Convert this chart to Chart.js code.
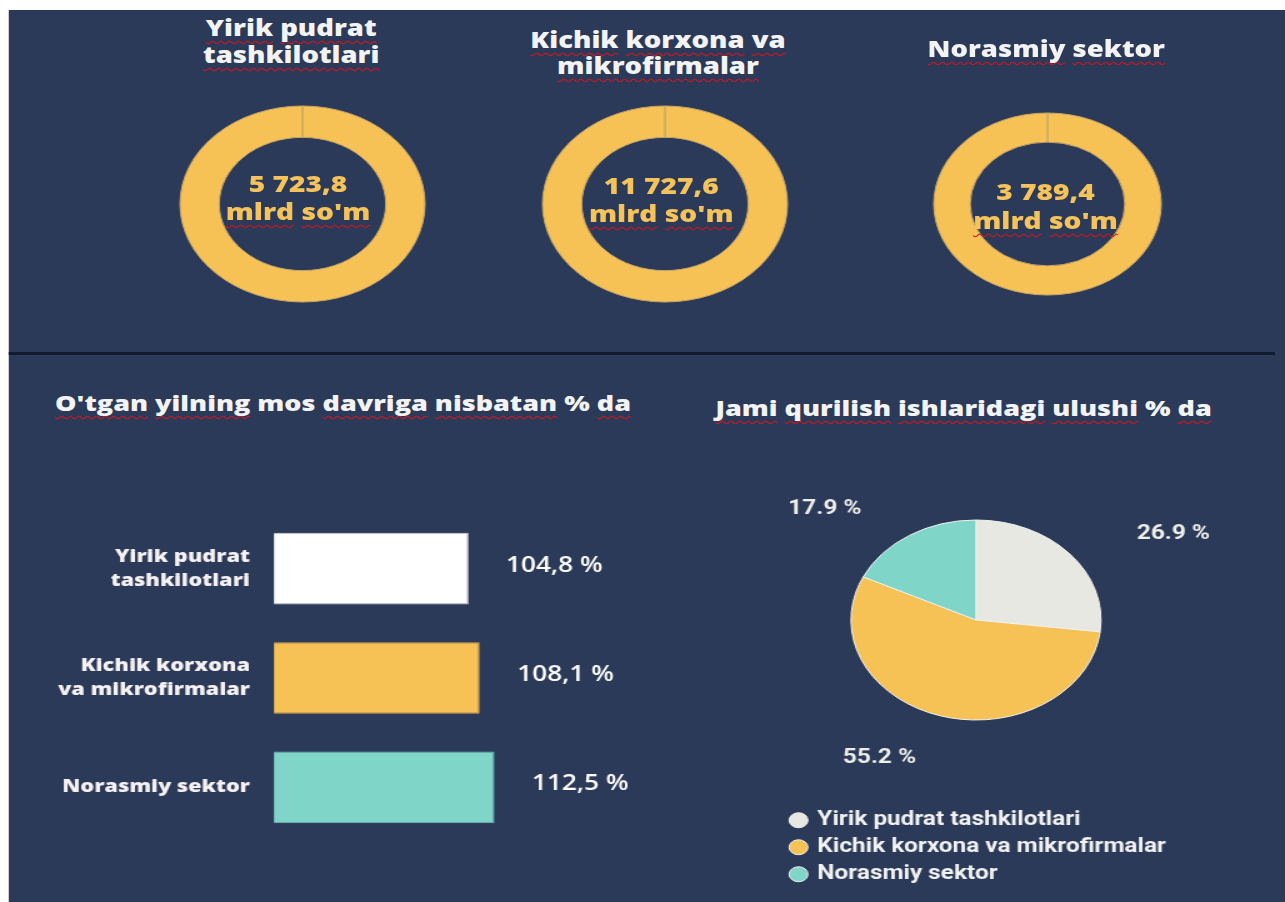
<!DOCTYPE html>
<html><head><meta charset="utf-8">
<script src="https://cdn.jsdelivr.net/npm/chart.js@4.4.1/dist/chart.umd.min.js"></script>
<style>
html,body{margin:0;padding:0;background:#fff;width:1285px;height:902px;overflow:hidden;}
#stage{position:absolute;left:0;top:0;width:1028px;height:902px;transform:scaleX(1.25);transform-origin:0 0;}
#panel{position:absolute;left:7.2px;top:10px;width:1020.8px;height:892px;background:#2b3a58;}
#sep{position:absolute;left:7.2px;top:352px;width:1013px;height:3px;background:#121b2f;}
.t{position:absolute;font-family:'Open Sans',sans-serif;font-weight:800;color:#f3f3f3;white-space:nowrap;}
.w{text-decoration:underline wavy #d4141e;text-decoration-thickness:1px;text-underline-offset:4px;text-decoration-skip-ink:none;}
canvas{position:absolute;}
</style></head>
<body>
<div id="stage"><div id="panel"></div><div id="sep"></div></div>
<script>
// ---- data ----
const sectorNames = ['Yirik pudrat tashkilotlari', 'Kichik korxona va mikrofirmalar', 'Norasmiy sektor'];
const topTitleLines = [['Yirik pudrat', 'tashkilotlari'], ['Kichik korxona va', 'mikrofirmalar'], ['Norasmiy sektor']];
const volumeValues = [5723.8, 11727.6, 3789.4];
const volumeUnit = "mlrd so'm";
const growthTitle = "O'tgan yilning mos davriga nisbatan % da";
const growthLabels = [['Yirik pudrat', 'tashkilotlari'], ['Kichik korxona', 'va mikrofirmalar'], 'Norasmiy sektor'];
const growthValues = [104.8, 108.1, 112.5];
const shareTitle = 'Jami qurilish ishlaridagi ulushi % da';
const shareValues = [26.9, 55.2, 17.9];

// ---- style ----
const YELLOW = '#f6c155', TEAL = '#7fd5c8', LIGHT = '#e8e8e3', WHITE = '#ffffff';
const FONT = '"Open Sans", sans-serif';
const donutLayout = [
  {cx: 242.4, cy: 204, r: 98, titleX: 233, titleTop: 13.8, titleLH: 27, textX: 238.4, textTop: 169.9},
  {cx: 532, cy: 204, r: 98, titleX: 526.4, titleTop: 25.6, titleLH: 26, textX: 529, textTop: 171.5},
  {cx: 837.6, cy: 204, r: 91, titleX: 837, titleTop: 35.1, titleLH: 27, textX: 836.4, textTop: 178.2}
];
const stage = document.getElementById('stage');
const noLine = new Set(['mos', '%']);
function wavy(text) { return text.split(' ').map(w => noLine.has(w) ? w : '<span class="w">' + w + '</span>').join(' '); }
function fmtVolume(v) { const p = v.toFixed(1).split('.'); return p[0].replace(/\B(?=(\d{3})+(?!\d))/g, ' ') + ',' + p[1]; }
function fmtGrowth(v) { return v.toFixed(1).replace('.', ',') + ' %'; }
function fmtShare(v) { return v.toFixed(1) + ' %'; }
function addDiv(html, css) { const d = document.createElement('div'); d.className = 't'; d.innerHTML = html; Object.assign(d.style, css); stage.appendChild(d); return d; }
function addCanvas(left, top, w, h) { const c = document.createElement('canvas'); c.width = w; c.height = h; c.style.left = left + 'px'; c.style.top = top + 'px'; stage.appendChild(c); return c; }
Chart.defaults.animation = false;

// ---- top donuts ----
volumeValues.forEach((v, i) => {
  const L = donutLayout[i];
  addDiv(topTitleLines[i].map(wavy).join('<br>'), {left: (L.titleX - 200) + 'px', width: '400px', textAlign: 'center', top: L.titleTop + 'px', fontSize: '22px', lineHeight: L.titleLH + 'px'});
  const c = addCanvas(L.cx - 110, L.cy - 110, 220, 220);
  new Chart(c, {
    type: 'doughnut',
    data: {labels: [sectorNames[i]], datasets: [{data: [v], backgroundColor: YELLOW, borderColor: '#c9a866', borderWidth: 1}]},
    options: {responsive: false, radius: L.r, cutout: '68%', plugins: {legend: {display: false}, tooltip: {enabled: false}}}
  });
  addDiv(fmtVolume(v) + '<br>' + wavy(volumeUnit), {left: (L.textX - 150) + 'px', width: '300px', textAlign: 'center', top: L.textTop + 'px', fontSize: '22.5px', lineHeight: '28.5px', color: '#f6c35a'});
});

// ---- section titles ----
addDiv(wavy(growthTitle), {left: '44px', top: '389.3px', fontSize: '21.6px', lineHeight: '27px'});
addDiv(wavy(shareTitle), {left: '572.4px', top: '393.8px', fontSize: '21.6px', lineHeight: '27px'});

// ---- bar chart ----
const barValueLabels = {
  id: 'barValueLabels',
  afterDatasetsDraw(chart) {
    const ctx = chart.ctx, meta = chart.getDatasetMeta(0);
    ctx.save();
    ctx.font = '600 21px ' + FONT; ctx.fillStyle = '#ffffff'; ctx.textAlign = 'left'; ctx.textBaseline = 'middle';
    meta.data.forEach((bar, i) => ctx.fillText(fmtGrowth(growthValues[i]), bar.x + 30, bar.y - 3));
    ctx.restore();
  }
};
new Chart(addCanvas(10, 514, 560, 328), {
  type: 'bar',
  data: {labels: growthLabels, datasets: [{data: growthValues, backgroundColor: [WHITE, YELLOW, TEAL], borderColor: ['#d5d5d5', '#dca64a', '#6cbfb3'], borderWidth: 1, categoryPercentage: 0.655, barPercentage: 1}]},
  options: {
    indexAxis: 'y', responsive: false,
    layout: {padding: {right: 60}},
    plugins: {legend: {display: false}, tooltip: {enabled: false}},
    scales: {
      x: {display: false, min: 47, max: 155},
      y: {grid: {display: false, drawTicks: false}, border: {display: false},
          ticks: {color: '#f6f1f3', padding: 19.2, crossAlign: 'near', font: {family: FONT, weight: 800, size: 17.4, lineHeight: 1.38}},
          afterFit(s) { s.width = 209.2; s.paddingTop = 0; s.paddingBottom = 0; }}
    }
  },
  plugins: [barValueLabels]
});

// ---- pie chart ----
const pieLabels = {
  id: 'pieLabels',
  afterDatasetsDraw(chart) {
    const ctx = chart.ctx, meta = chart.getDatasetMeta(0);
    ctx.save();
    ctx.font = 'bold 19.5px Roboto'; ctx.fillStyle = '#efefea'; ctx.textBaseline = 'middle';
    meta.data.forEach((arc, i) => {
      const a = (arc.startAngle + arc.endAngle) / 2, c = Math.cos(a);
      ctx.textAlign = c >= 0 ? 'left' : 'right';
      ctx.fillText(fmtShare(shareValues[i]), arc.x + c * 1.72 * arc.outerRadius, arc.y + Math.sin(a) * 1.38 * arc.outerRadius + 6);
    });
    ctx.restore();
  }
};
new Chart(addCanvas(626, 437, 368, 457), {
  type: 'pie',
  data: {labels: sectorNames, datasets: [{data: shareValues, backgroundColor: [LIGHT, YELLOW, TEAL], borderColor: '#f2f2ee', borderWidth: 1}]},
  options: {
    responsive: false, radius: 100,
    layout: {padding: {right: 58.4}},
    plugins: {
      tooltip: {enabled: false},
      legend: {position: 'bottom', align: 'start',
        labels: {usePointStyle: true, pointStyle: 'circle', boxWidth: 10.6, boxHeight: 10.6, padding: 7.5, color: '#f2f2f2', font: {family: 'Roboto', weight: 'bold', size: 19.5}}}
    }
  },
  plugins: [pieLabels]
});
</script>
</body></html>
